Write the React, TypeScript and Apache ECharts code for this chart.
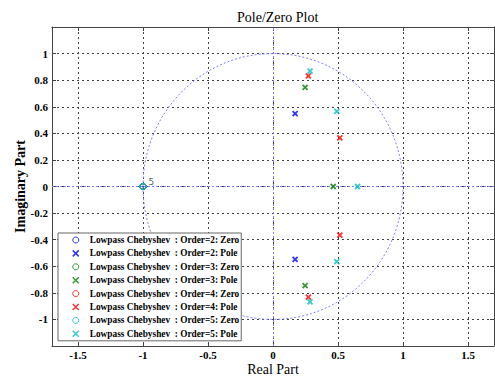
import React, { useEffect, useRef } from "react";
import * as echarts from "echarts";

const seriesNames = [
  "Lowpass Chebyshev  : Order=2: Zero",
  "Lowpass Chebyshev  : Order=2: Pole",
  "Lowpass Chebyshev  : Order=3: Zero",
  "Lowpass Chebyshev  : Order=3: Pole",
  "Lowpass Chebyshev  : Order=4: Zero",
  "Lowpass Chebyshev  : Order=4: Pole",
  "Lowpass Chebyshev  : Order=5: Zero",
  "Lowpass Chebyshev  : Order=5: Pole",
];
const seriesColors = ["#0000ff", "#0000ff", "#008000", "#008000", "#ff0000", "#ff0000", "#00bfbf", "#00bfbf"];

const zerosO2 = [[-1, 0], [-1, 0]];
const polesO2 = [[0.17, 0.548], [0.17, -0.548]];
const zerosO3 = [[-1, 0], [-1, 0], [-1, 0]];
const polesO3 = [[0.247, 0.745], [0.247, -0.745], [0.463, 0]];
const zerosO4 = [[-1, 0], [-1, 0], [-1, 0], [-1, 0]];
const polesO4 = [[0.272, 0.832], [0.272, -0.832], [0.514, 0.365], [0.514, -0.365]];
const zerosO5 = [[-1, 0], [-1, 0], [-1, 0], [-1, 0], [-1, 0]];
const polesO5 = [[0.285, 0.868], [0.285, -0.868], [0.491, 0.566], [0.491, -0.566], [0.65, 0]];
const seriesData = [zerosO2, polesO2, zerosO3, polesO3, zerosO4, polesO4, zerosO5, polesO5];
const zeroMultiplicityLabel = "5";

const unitCircle = [[0, 0, 1]];
const xRange = [-1.7, 1.7];
const yRange = [-1.2, 1.2];

const SERIF = "Liberation Serif";
const CROSS = "path://M0,0L10,10M0,10L10,0";

export default function App() {
  const ref = useRef<HTMLDivElement>(null);
  useEffect(() => {
    if (!ref.current) return;
    const chart = echarts.init(ref.current, null, { renderer: "svg" });
    const refColor = "#8080ff";
    const gridColor = "#404040";
    const scatterSeries = seriesNames.map((name, i) => {
      const isZero = i % 2 === 0;
      const s: any = {
        name,
        type: "scatter",
        xAxisIndex: 0,
        yAxisIndex: 0,
        data: seriesData[i],
        symbol: isZero ? "circle" : CROSS,
        symbolSize: isZero ? 6 : 5,
        z: 5 + i,
        itemStyle: {
          color: isZero ? "rgba(255,255,255,0)" : seriesColors[i],
          borderColor: seriesColors[i],
          borderWidth: isZero ? 1 : 1.8,
        },
      };
      if (i === 6) {
        s.label = {
          show: true,
          formatter: (p: any) => (p.dataIndex === 0 ? zeroMultiplicityLabel : ""),
          position: [9, -6],
          fontFamily: "DejaVu Sans",
          fontSize: 9,
          color: "#333",
        };
      }
      return s;
    });
    const legendData = seriesNames.map((name, i) => ({
      name,
      itemStyle: { borderWidth: i % 2 === 0 ? 1 : 1.5 },
    }));
    const option: any = {
      animation: false,
      backgroundColor: "#fff",
      title: {
        text: "Pole/Zero Plot",
        left: 232,
        top: 5,
        textStyle: { fontFamily: SERIF, fontSize: 14, fontWeight: "normal", color: "#000" },
      },
      grid: { left: 52, top: 27, width: 442, height: 319, containLabel: false, outerBoundsMode: "none" },
      legend: {
        orient: "vertical",
        left: 58,
        top: 233,
        data: legendData,
        backgroundColor: "#fff",
        borderColor: "#666",
        borderWidth: 1,
        borderRadius: 0,
        padding: [1, 2, 1, 14],
        itemWidth: 18,
        itemHeight: 6,
        itemGap: 1.4,
        textStyle: { fontFamily: SERIF, fontSize: 9.3, fontWeight: "bold", color: "#000", lineHeight: 12 },
      },
      xAxis: [
        {
          type: "value",
          min: xRange[0],
          max: xRange[1],
          splitNumber: 7,
          name: "Real Part",
          nameLocation: "middle",
          nameGap: 16,
          nameMoveOverlap: false,
          nameTextStyle: { fontFamily: SERIF, fontSize: 14, color: "#000" },
          axisLine: { show: true, onZero: false, lineStyle: { color: "#444" } },
          axisTick: { show: true, inside: true, length: 4, lineStyle: { color: "#444" } },
          axisLabel: { showMinLabel: false, showMaxLabel: false, margin: 3, fontFamily: SERIF, fontSize: 11, fontWeight: "bold", color: "#000" },
          splitLine: { show: true, lineStyle: { color: gridColor, type: [2, 3], width: 1 } },
        },
        {
          type: "value",
          position: "top",
          min: xRange[0],
          max: xRange[1],
          splitNumber: 7,
          axisLine: { show: true, onZero: false, lineStyle: { color: "#444" } },
          axisTick: { show: true, inside: true, length: 4, lineStyle: { color: "#444" } },
          axisLabel: { show: false },
          splitLine: { show: false },
        },
      ],
      yAxis: [
        {
          type: "value",
          min: yRange[0],
          max: yRange[1],
          interval: 0.2,
          name: "Imaginary Part",
          nameLocation: "middle",
          nameGap: 25,
          nameMoveOverlap: false,
          nameTextStyle: { fontFamily: SERIF, fontSize: 14, fontWeight: "bold", color: "#000" },
          axisLine: { show: true, onZero: false, lineStyle: { color: "#444" } },
          axisTick: { show: true, inside: true, length: 4, lineStyle: { color: "#444" } },
          axisLabel: {
            showMinLabel: false,
            showMaxLabel: false,
            margin: 4,
            fontFamily: SERIF,
            fontSize: 11,
            fontWeight: "bold",
            color: "#000",
            formatter: (v: number) => String(Math.round(v * 10) / 10),
          },
          splitLine: { show: true, lineStyle: { color: gridColor, type: [2, 3], width: 1 } },
        },
        {
          type: "value",
          position: "right",
          min: yRange[0],
          max: yRange[1],
          interval: 0.2,
          axisLine: { show: true, onZero: false, lineStyle: { color: "#444" } },
          axisTick: { show: true, inside: true, length: 4, lineStyle: { color: "#444" } },
          axisLabel: { show: false },
          splitLine: { show: false },
        },
      ],
      series: [
        {
          name: "unit circle",
          type: "custom",
          xAxisIndex: 0,
          yAxisIndex: 0,
          data: unitCircle,
          z: 3,
          silent: true,
          renderItem: (params: any, api: any) => {
            const c = api.coord([api.value(0), api.value(1)]);
            const s = api.size([api.value(2), api.value(2)]);
            return {
              type: "ellipse",
              shape: { cx: c[0], cy: c[1], rx: s[0], ry: s[1] },
              style: { fill: "none", stroke: refColor, lineWidth: 1, lineDash: [2, 2] },
            };
          },
          markLine: {
            silent: true,
            symbol: ["none", "none"],
            label: { show: false },
            lineStyle: { color: refColor, type: [2, 2], width: 1 },
            data: [{ xAxis: 0 }, { yAxis: 0 }],
          },
        },
        ...scatterSeries,
      ],
    };
    chart.setOption(option);
    return () => chart.dispose();
  }, []);
  return <div ref={ref} style={{ position: "absolute", left: 0, top: 0, width: 495, height: 377, background: "#fff" }} />;
}
